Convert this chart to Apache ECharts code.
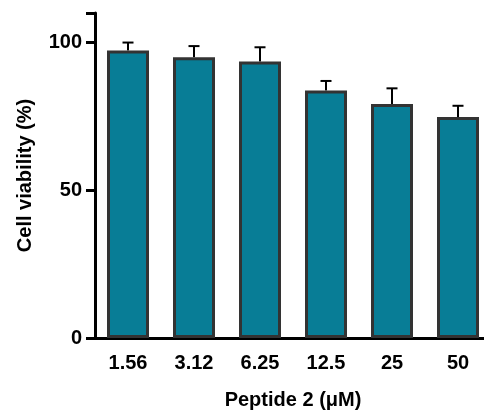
<!DOCTYPE html>
<html><head><meta charset="utf-8">
<script src="https://cdn.jsdelivr.net/npm/echarts@6/dist/echarts.min.js"></script>
<style>html,body{margin:0;padding:0;background:#fff}#c{width:484px;height:411px}</style>
</head><body><div id="c"></div>
<script>
var categories = ['1.56', '3.12', '6.25', '12.5', '25', '50'];
var viability = [97.3, 95.0, 93.6, 83.8, 79.2, 74.8];
var errorTop = [100.0, 98.8, 98.4, 87.0, 84.5, 78.6];
var yTicks = [0, 50, 100];

var chart = echarts.init(document.getElementById('c'));
var font = '"Liberation Sans", Arial, sans-serif';
chart.setOption({
  animation: false,
  grid: {left: 95, right: -7, top: 13, bottom: 73, outerBoundsMode: 'none', containLabel: false},
  xAxis: {
    type: 'category', data: categories,
    name: 'Peptide 2 (μM)', nameLocation: 'middle', nameGap: 52,
    nameTextStyle: {fontFamily: font, fontWeight: 'bold', fontSize: 20, color: '#000'},
    axisLine: {lineStyle: {color: '#000', width: 3}},
    axisTick: {alignWithLabel: true, length: 9, lineStyle: {color: '#000', width: 3}},
    axisLabel: {fontFamily: font, fontWeight: 'bold', fontSize: 20, color: '#000', margin: 15}
  },
  yAxis: {
    type: 'value', min: 0, max: 110, interval: 50,
    name: 'Cell viability (%)', nameLocation: 'middle', nameGap: 60,
    nameTextStyle: {fontFamily: font, fontWeight: 'bold', fontSize: 20, color: '#000'},
    axisLine: {show: true, lineStyle: {color: '#000', width: 3}},
    axisTick: {show: true, length: 9, lineStyle: {color: '#000', width: 3}},
    axisLabel: {fontFamily: font, fontWeight: 'bold', fontSize: 20, color: '#000', margin: 13,
      formatter: function (v) { return yTicks.indexOf(v) >= 0 ? String(v) : ''; }},
    splitLine: {show: false}
  },
  series: [
    {
      type: 'custom', z: 1,
      data: categories.map(function (c, i) { return [i, viability[i], errorTop[i]]; }),
      renderItem: function (params, api) {
        var base = api.coord([api.value(0), api.value(1)]);
        var top = api.coord([api.value(0), api.value(2)]);
        var hw = 5.5;
        return {type: 'group', children: [
          {type: 'line', shape: {x1: base[0], y1: base[1], x2: top[0], y2: top[1]}, style: {stroke: '#000', lineWidth: 2}},
          {type: 'line', shape: {x1: top[0] - hw, y1: top[1], x2: top[0] + hw, y2: top[1]}, style: {stroke: '#000', lineWidth: 2}}
        ]};
      }
    },
    {
      type: 'bar', data: viability, barWidth: 42, z: 2,
      itemStyle: {color: '#087D96', borderColor: '#333333', borderWidth: 3}
    }
  ]
});
</script></body></html>
